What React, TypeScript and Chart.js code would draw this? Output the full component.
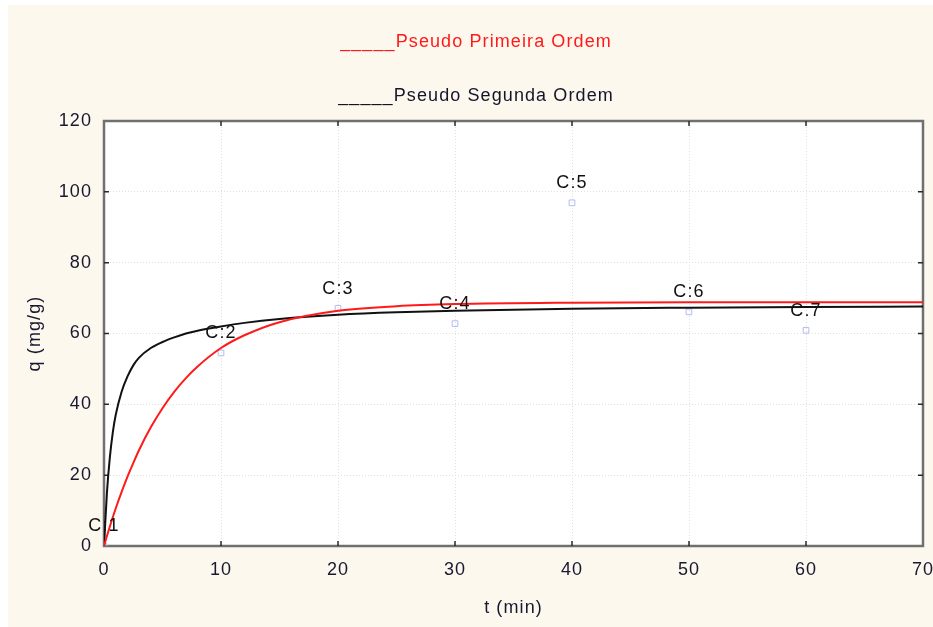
import React, { useEffect, useRef } from "react";
import { Chart, registerables } from "chart.js";

Chart.register(...registerables);

// Experimental points
const POINT_LABELS = ["C:1", "C:2", "C:3", "C:4", "C:5", "C:6", "C:7"];
const POINT_T = [0, 10, 20, 30, 40, 50, 60];
const POINT_Q = [0, 54.5, 67.1, 62.8, 96.9, 66.1, 60.9];

// Fitted curves
const CURVE_T = [0, 0.25, 0.5, 0.75, 1, 1.5, 2, 2.5, 3, 4, 5, 6, 7, 8, 10, 12, 15, 20, 25, 30, 40, 50, 60, 70];
const PFO_Q = [0, 2.8, 5.5, 8.1, 10.6, 15.2, 19.5, 23.4, 27.1, 33.5, 38.9, 43.5, 47.4, 50.7, 55.9, 59.5, 63.2, 66.4, 67.7, 68.3, 68.7, 68.8, 68.8, 68.8];
const PSO_Q = [0, 15, 25, 32, 37, 43.5, 47.8, 51, 53.2, 55.9, 57.6, 58.9, 60.0, 60.8, 62.0, 63.0, 64.1, 65.3, 66.0, 66.4, 67.0, 67.3, 67.5, 67.6];

const LEGEND_LINES = ["_____Pseudo Primeira Ordem", "_____Pseudo Segunda Ordem"];
const LEGEND_COLORS = ["#ff1a1a", "#15152a"];

const X_TITLE = "t (min)";
const Y_TITLE = "q (mg/g)";

const FONT = "Arial, 'Liberation Sans', sans-serif";
const TEXT_COLOR = "#181830";
const LS = "1.1px";

export default function App() {
  const ref = useRef<HTMLCanvasElement | null>(null);

  useEffect(() => {
    if (!ref.current) return;

    const spacing = {
      id: "spacing",
      beforeUpdate(chart: any) {
        chart.ctx.letterSpacing = LS;
      },
      beforeDraw(chart: any) {
        const ctx = chart.ctx;
        ctx.letterSpacing = LS;
        const a = chart.chartArea;
        ctx.save();
        ctx.fillStyle = "#ffffff";
        ctx.fillRect(a.left, a.top, a.right - a.left, a.bottom - a.top);
        ctx.restore();
      },
    };

    const frame = {
      id: "frame",
      beforeDatasetsDraw(chart: any) {
        const ctx = chart.ctx;
        const a = chart.chartArea;
        const xs = chart.scales.x;
        const ys = chart.scales.y;
        ctx.save();
        ctx.strokeStyle = "#707070";
        ctx.lineWidth = 2.5;
        ctx.strokeRect(a.left, a.top, a.right - a.left, a.bottom - a.top);
        ctx.strokeStyle = "#2a2a2a";
        ctx.lineWidth = 1.5;
        const len = 5;
        ctx.beginPath();
        ys.ticks.forEach((t: any) => {
          const y = ys.getPixelForValue(t.value);
          if (t.value === ys.min || t.value === ys.max) return;
          ctx.moveTo(a.left, y);
          ctx.lineTo(a.left + len, y);
          ctx.moveTo(a.right, y);
          ctx.lineTo(a.right - len, y);
        });
        xs.ticks.forEach((t: any) => {
          const x = xs.getPixelForValue(t.value);
          if (t.value === xs.min || t.value === xs.max) return;
          ctx.moveTo(x, a.bottom);
          ctx.lineTo(x, a.bottom - len);
          ctx.moveTo(x, a.top);
          ctx.lineTo(x, a.top + len);
        });
        ctx.stroke();
        ctx.restore();
      },
    };

    const labels = {
      id: "labels",
      afterDatasetsDraw(chart: any) {
        const ctx = chart.ctx;
        const xs = chart.scales.x;
        const ys = chart.scales.y;
        ctx.save();
        ctx.letterSpacing = LS;
        ctx.font = `18px ${FONT}`;
        ctx.fillStyle = "#111111";
        ctx.textAlign = "center";
        ctx.textBaseline = "middle";
        POINT_LABELS.forEach((lab, i) => {
          const x = xs.getPixelForValue(POINT_T[i]);
          const y = ys.getPixelForValue(POINT_Q[i]);
          ctx.fillText(lab, x, y - 19.5);
        });
        // legend lines
        LEGEND_LINES.forEach((txt, i) => {
          ctx.fillStyle = LEGEND_COLORS[i];
          ctx.fillText(txt, 468, 37 + i * 54);
        });
        ctx.restore();
      },
    };

    const chart = new Chart(ref.current, {
      type: "scatter",
      data: {
        datasets: [
          {
            label: "Pseudo Primeira Ordem",
            data: CURVE_T.map((t, i) => ({ x: t, y: PFO_Q[i] })),
            showLine: true,
            borderColor: "#ff1a1a",
            borderWidth: 2,
            pointRadius: 0,
            cubicInterpolationMode: "monotone",
          },
          {
            label: "Pseudo Segunda Ordem",
            data: CURVE_T.map((t, i) => ({ x: t, y: PSO_Q[i] })),
            showLine: true,
            borderColor: "#111111",
            borderWidth: 2,
            pointRadius: 0,
            cubicInterpolationMode: "monotone",
          },
          {
            label: "Dados",
            data: POINT_T.map((t, i) => ({ x: t, y: POINT_Q[i] })),
            showLine: false,
            pointStyle: "rect",
            pointRadius: 4,
            borderColor: "#b4bcf0",
            borderWidth: 1,
            backgroundColor: "rgba(0,0,0,0)",
          },
        ],
      },
      options: {
        animation: false,
        responsive: true,
        maintainAspectRatio: false,
        layout: { padding: { top: 116, right: 10, left: 0, bottom: 0 } },
        plugins: {
          legend: { display: false },
          tooltip: { enabled: false },
          title: { display: false },
        },
        scales: {
          x: {
            type: "linear",
            min: 0,
            max: 70,
            ticks: {
              stepSize: 10,
              padding: 13,
              color: TEXT_COLOR,
              font: { family: FONT, size: 18 },
              maxRotation: 0,
            },
            grid: {
              color: "#e0e0e0",
              drawTicks: false,
              lineWidth: 1,
            },
            border: { display: false, dash: [1, 2] } as any,
            title: {
              display: true,
              text: X_TITLE,
              color: TEXT_COLOR,
              font: { family: FONT, size: 18 },
              padding: { top: 0, bottom: 8 },
            },
            afterFit(scale: any) {
              scale.height = 81;
              scale.paddingLeft = 0;
              scale.paddingRight = 0;
            },
          },
          y: {
            type: "linear",
            min: 0,
            max: 120,
            ticks: {
              stepSize: 20,
              padding: 12,
              color: TEXT_COLOR,
              font: { family: FONT, size: 18 },
            },
            grid: {
              color: "#e0e0e0",
              drawTicks: false,
              lineWidth: 1,
            },
            border: { display: false, dash: [1, 2] } as any,
            title: {
              display: true,
              text: Y_TITLE,
              color: TEXT_COLOR,
              font: { family: FONT, size: 18 },
              padding: { top: 16, bottom: 0 },
            },
            afterFit(scale: any) {
              scale.width = 96;
              scale.paddingTop = 0;
              scale.paddingBottom = 0;
            },
          },
        },
      } as any,
      plugins: [spacing, frame, labels],
    });

    return () => chart.destroy();
  }, []);

  return (
    <div
      style={{
        position: "absolute",
        left: 8,
        top: 5,
        width: 925,
        height: 622,
        background: "#fdf8ee",
      }}
    >
      <canvas ref={ref} />
    </div>
  );
}
